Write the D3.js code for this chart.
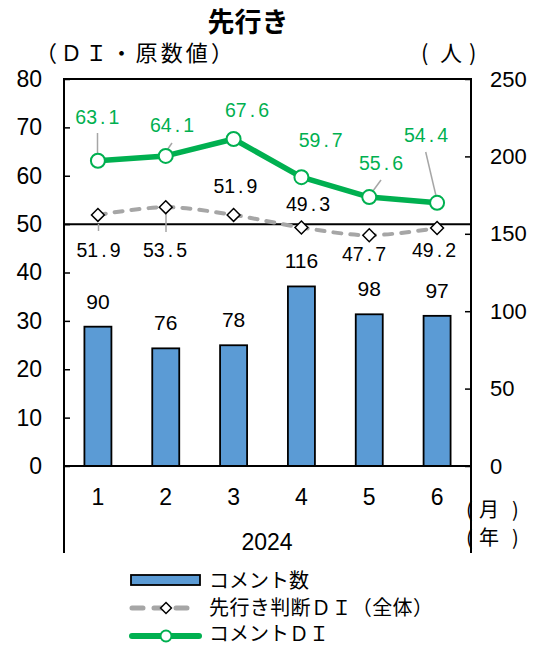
<!DOCTYPE html>
<html><head><meta charset="utf-8">
<script src="https://cdn.jsdelivr.net/npm/d3@7"></script>
<style>
body{margin:0;background:#fff;}
text{font-family:"Liberation Sans","Noto Sans CJK JP",sans-serif;}
</style></head>
<body><svg id="chart" width="539" height="647"></svg>
<script>
// Monthly values, 2024
const months = ["1","2","3","4","5","6"];
const commentCount = [90, 76, 78, 116, 98, 97];
const overallDI = [51.9, 53.5, 51.9, 49.3, 47.7, 49.2];
const commentDI = [63.1, 64.1, 67.6, 59.7, 55.6, 54.4];
const leftTicks = [0,10,20,30,40,50,60,70,80];
const rightTicks = [0,50,100,150,200,250];
const legendLabels = ["コメント数","先行き判断ＤＩ（全体）","コメントＤＩ"];

const svg = d3.select("#chart");
const m = {l:64, r:471, t:79, b:466};
const jp = '"Noto Sans CJK JP","Liberation Sans",sans-serif';
const blue = "#5B9BD5", green = "#00B050", gray = "#A6A6A6";

const x = d3.scaleBand().domain(months).range([m.l, m.r]);
const yL = d3.scaleLinear().domain([0,80]).range([m.b, m.t]);
const yR = d3.scaleLinear().domain([0,250]).range([m.b, m.t]);
const cx = i => x(months[i]) + x.bandwidth()/2;

// unit caption with each character placed on its own: "(", word, ")"
const unitCaption = (parts, y, size) => {
  const t = svg.append("text").attr("y", y).style("font-family", jp).style("font-size", size + "px");
  parts.forEach(([s, px]) => t.append("tspan").attr("x", px).text(s));
};

// title and unit captions
svg.append("text").attr("x", 248).attr("y", 32).attr("text-anchor","middle")
  .style("font-family", jp).style("font-weight","bold").style("font-size","27px").text("先行き");
svg.append("text").attr("x", 35).attr("y", 61).style("font-family", jp).style("font-size","22px")
  .attr("textLength", 198).attr("lengthAdjust","spacing").text("（ＤＩ・原数値）");
unitCaption([["(",421],["人",440],[")",469]], 61, 22);

// bars (right axis)
const bw = 27;
svg.append("g").selectAll("rect").data(commentCount).join("rect")
  .attr("x", (d,i) => cx(i) - bw/2)
  .attr("y", d => yR(d))
  .attr("width", bw)
  .attr("height", d => m.b - yR(d))
  .attr("fill", blue).attr("stroke", "#000").attr("stroke-width", 1.8);

// frame and the 50 reference line
const hline = (y) => svg.append("line").attr("x1", m.l).attr("x2", m.r).attr("y1", y).attr("y2", y)
  .attr("stroke","#000").attr("stroke-width",2);
hline(m.t); hline(m.b); hline(yL(50));
[m.l, m.r].forEach(xx => svg.append("line").attr("x1", xx).attr("x2", xx).attr("y1", m.t - 1).attr("y2", 553)
  .attr("stroke","#000").attr("stroke-width",2));

const numFont = '"Liberation Sans",sans-serif';
// left axis
const gl = svg.append("g").attr("transform", `translate(${m.l},0)`)
  .call(d3.axisLeft(yL).tickValues(leftTicks).tickSize(-6).tickPadding(22));
gl.select(".domain").remove();
gl.selectAll("line").attr("stroke","#000").attr("stroke-width",1.5);
gl.selectAll("text").style("font-size","23px").attr("fill","#000").style("font-family",numFont);

// right axis
const gr = svg.append("g").attr("transform", `translate(${m.r},0)`)
  .call(d3.axisRight(yR).tickValues(rightTicks).tickSize(-6).tickPadding(19));
gr.select(".domain").remove();
gr.selectAll("line").attr("stroke","#000").attr("stroke-width",1.5);
gr.selectAll("text").style("font-size","22px").attr("fill","#000").style("font-family",numFont);

// month axis
const gx = svg.append("g").attr("transform", `translate(0,${m.b})`)
  .call(d3.axisBottom(x).tickSize(0).tickPadding(23));
gx.select(".domain").remove();
gx.selectAll("text").style("font-size","23px").attr("fill","#000").style("font-family",numFont);
svg.append("text").attr("x", 267).attr("y", 550).attr("text-anchor","middle")
  .style("font-size","23px").text("2024");
unitCaption([["(",466],["月",479],[")",512]], 517, 20);
unitCaption([["(",466],["年",479],[")",512]], 545, 20);

// leader lines
const leader = (x1,y1,x2,y2) => svg.append("line").attr("x1",x1).attr("y1",y1).attr("x2",x2).attr("y2",y2)
  .attr("stroke",gray).attr("stroke-width",1.5);
leader(97.5,133,97.5,158);
leader(172,143,165,153);
leader(381,180,370,195);
leader(425.7,152,436.5,198);
leader(98.5,224,98.5,231);
leader(166,210,166,232);

// overall DI, dashed smoothed line with diamond markers
const lineL = d3.line().x((d,i) => cx(i)).y(d => yL(d)).curve(d3.curveCatmullRom.alpha(0.5));
svg.append("path").datum(overallDI).attr("d", lineL).attr("fill","none")
  .attr("stroke",gray).attr("stroke-width",4).attr("stroke-dasharray","8,9").attr("stroke-linecap","round");
svg.append("g").selectAll("path").data(overallDI).join("path")
  .attr("d", d3.symbol(d3.symbolDiamond2, 105))
  .attr("transform", (d,i) => `translate(${cx(i)},${yL(d)})`)
  .attr("fill","#fff").attr("stroke","#000").attr("stroke-width",1.5);

// comment DI line with circle markers
const lineG = d3.line().x((d,i) => cx(i)).y(d => yL(d));
svg.append("path").datum(commentDI).attr("d", lineG).attr("fill","none")
  .attr("stroke",green).attr("stroke-width",5.5).attr("stroke-linejoin","round");
svg.append("g").selectAll("circle").data(commentDI).join("circle")
  .attr("cx", (d,i) => cx(i)).attr("cy", d => yL(d)).attr("r", 7)
  .attr("fill","#fff").attr("stroke",green).attr("stroke-width",2);

// value labels; the decimal point gets a little extra room
const valueLabel = (v, px, py, color) => {
  const [a, b] = v.toFixed(1).split(".");
  const t = svg.append("text").attr("x", px).attr("y", py).attr("text-anchor","middle")
    .attr("fill", color).style("font-size","19.5px");
  t.append("tspan").text(a);
  t.append("tspan").attr("dx", 3).text(".");
  t.append("tspan").attr("dx", 3).text(b);
};
const gPos = [[97.3,123.5],[172,131.7],[247,117.3],[320.7,147.3],[381,170],[426,142]];
commentDI.forEach((d,i) => valueLabel(d, gPos[i][0], gPos[i][1], green));
const oPos = [[98.5,256.7],[165,256.7],[235.4,192.7],[308,210.7],[364,260.5],[434,256.7]];
overallDI.forEach((d,i) => valueLabel(d, oPos[i][0], oPos[i][1], "#000"));
svg.append("g").selectAll("text").data(commentCount).join("text")
  .attr("x", (d,i) => cx(i)).attr("y", d => yR(d) - 18)
  .attr("text-anchor","middle").style("font-size","21px").text(d => d);

// legend
const lg = svg.append("g");
lg.append("rect").attr("x",131).attr("y",575).attr("width",69).attr("height",10)
  .attr("fill",blue).attr("stroke","#000").attr("stroke-width",1.8);
lg.append("line").attr("x1",132).attr("x2",198).attr("y1",608).attr("y2",608)
  .attr("stroke",gray).attr("stroke-width",5).attr("stroke-dasharray","11,11").attr("stroke-linecap","round");
lg.append("path").attr("d", d3.symbol(d3.symbolDiamond2, 75)).attr("transform","translate(166,608)")
  .attr("fill","#fff").attr("stroke","#000").attr("stroke-width",1.5);
lg.append("line").attr("x1",132).attr("x2",199).attr("y1",636).attr("y2",636)
  .attr("stroke",green).attr("stroke-width",6).attr("stroke-linecap","round");
lg.append("circle").attr("cx",166).attr("cy",636).attr("r",5.5)
  .attr("fill","#fff").attr("stroke",green).attr("stroke-width",2);
const legY = [587.5, 614.5, 641];
const legLen = [null, 224, null];
legendLabels.forEach((t,i) => {
  const tx = lg.append("text").attr("x",209).attr("y",legY[i])
    .style("font-family", jp).style("font-size","20px").text(t);
  if (legLen[i]) tx.attr("textLength", legLen[i]).attr("lengthAdjust","spacing");
});
</script></body></html>
